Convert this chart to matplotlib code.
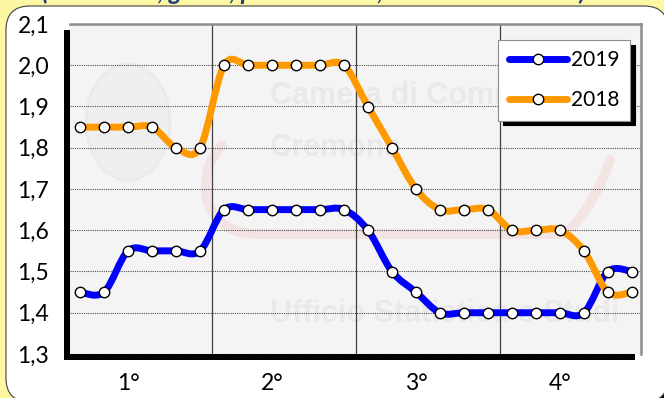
import matplotlib.pyplot as plt
from matplotlib.path import Path
from matplotlib.patches import PathPatch, Rectangle, FancyBboxPatch, Ellipse
from matplotlib.lines import Line2D
from matplotlib.ticker import FuncFormatter
import numpy as np

plt.rcParams["font.family"] = ["Lato", "DejaVu Sans"]

# six readings per quarter, two years
quarters = ["1°", "2°", "3°", "4°"]
per_quarter = 6
years = ["2019", "2018"]
rate_2019 = [1.45, 1.45, 1.55, 1.55, 1.55, 1.55,
             1.65, 1.65, 1.65, 1.65, 1.65, 1.65,
             1.60, 1.50, 1.45, 1.40, 1.40, 1.40,
             1.40, 1.40, 1.40, 1.40, 1.50, 1.50]
rate_2018 = [1.85, 1.85, 1.85, 1.85, 1.80, 1.80,
             2.00, 2.00, 2.00, 2.00, 2.00, 2.00,
             1.90, 1.80, 1.70, 1.65, 1.65, 1.65,
             1.60, 1.60, 1.60, 1.55, 1.45, 1.45]
colors = ["#0000FF", "#FF9900"]

W, H = 664, 398
BG_YELLOW = "#FDF6A3"


def inch(x, y):
    # pixel position (origin top-left) -> inches from bottom-left
    return x / 100, (H - y) / 100


def smooth_path(x, y):
    # cubic Bezier through every point, Catmull-Rom style tangents
    pts = np.column_stack([x, y]).astype(float)
    ext = np.vstack([pts[0], pts, pts[-1]])
    verts = [pts[0]]
    codes = [Path.MOVETO]
    for i in range(len(pts) - 1):
        p0, p1, p2, p3 = ext[i], ext[i + 1], ext[i + 2], ext[i + 3]
        verts += [p1 + (p2 - p0) / 6, p2 - (p3 - p1) / 6, p2]
        codes += [Path.CURVE4] * 3
    return Path(verts, codes)


fig = plt.figure(figsize=(W / 100, H / 100), dpi=100)
fig.patch.set_facecolor(BG_YELLOW)

# rounded white panel with a dark drop shadow
x0, y0 = inch(6, 402)
panel_w, panel_h = (668 - 6) / 100, (402 - 6) / 100
fig.patches.append(FancyBboxPatch((x0 + 0.06, y0 - 0.06), panel_w, panel_h,
                                  boxstyle="round,pad=0,rounding_size=0.24",
                                  transform=fig.dpi_scale_trans,
                                  facecolor="black", edgecolor="none", zorder=-3))
fig.patches.append(FancyBboxPatch((x0, y0), panel_w, panel_h,
                                  boxstyle="round,pad=0,rounding_size=0.24",
                                  transform=fig.dpi_scale_trans,
                                  facecolor="white", edgecolor="#404040",
                                  linewidth=0.8, zorder=-2))

# title line, mostly above the top edge
fig.text(*inch(42, 0.5), "(valori in %, giorni, per trimestre, anni 2018 e 2019)",
         transform=fig.dpi_scale_trans, fontsize=18, fontstyle="italic",
         fontweight="bold", color="#1F3C88", va="baseline", ha="left")

# plot area and its shadow
left, top, right, bottom = 70, 24, 641, 354
sx, sy = inch(left - 6, bottom + 6)
fig.patches.append(Rectangle((sx, sy), (right - left) / 100, (bottom - top) / 100,
                             transform=fig.dpi_scale_trans,
                             facecolor="black", edgecolor="none", zorder=-1))

ax = fig.add_axes([left / W, 1 - bottom / H, (right - left) / W, (bottom - top) / H])
ax.set_facecolor("#F4F4F4")
ax.set_axisbelow(True)

# faint watermark
ax.add_patch(Ellipse(inch(128, 122), 0.84, 1.16, transform=fig.dpi_scale_trans,
                     facecolor="#EFEFEF", edgecolor="#EAEAEA", lw=2, zorder=0.3))
swoosh = Path([inch(222, 145), inch(196, 170), inch(196, 235), inch(260, 234),
               inch(400, 234), inch(565, 234), inch(585, 215), inch(600, 190), inch(610, 160)],
              [Path.MOVETO, Path.CURVE4, Path.CURVE4, Path.CURVE4,
               Path.LINETO, Path.LINETO, Path.CURVE4, Path.CURVE4, Path.CURVE4])
ax.add_patch(PathPatch(swoosh, transform=fig.dpi_scale_trans, fill=False,
                       edgecolor="#F3E3E3", lw=7, capstyle="round", zorder=0.3))
for txt, (tx, ty) in [("Camera di Commercio", (270, 104)), ("Cremona", (270, 156)),
                      ("Ufficio Statistica e Studi", (270, 322))]:
    ax.text(*inch(tx, ty), txt, transform=fig.dpi_scale_trans, fontsize=22,
            fontweight="bold", color="#E9E9E9", family="Liberation Sans",
            ha="left", va="baseline", zorder=0.35, clip_on=True)

idx = np.arange(len(rate_2019))
for values, color in zip([rate_2019, rate_2018], colors):
    ax.add_patch(PathPatch(smooth_path(idx, values), fill=False, edgecolor=color,
                           lw=5, capstyle="round", joinstyle="round", zorder=2))
    ax.plot(idx, values, linestyle="none", marker="o", markersize=7.5,
            markerfacecolor="white", markeredgecolor="black", markeredgewidth=1, zorder=3)

ax.set_xlim(-0.42, 23.38)
ax.set_ylim(1.3, 2.1)

# quarter separators
for q in range(1, len(quarters)):
    ax.axvline(q * per_quarter - 0.5, color="#404040", lw=0.9, zorder=1)

ax.set_yticks(np.arange(1.3, 2.11, 0.1))
ax.yaxis.set_major_formatter(FuncFormatter(lambda v, _: f"{v:.1f}".replace(".", ",")))
ax.set_xticks([q * per_quarter + 2 for q in range(len(quarters))])
ax.set_xticklabels(quarters)
ax.tick_params(axis="both", length=0, labelsize=16.5, colors="black")
ax.tick_params(axis="y", pad=15)
ax.tick_params(axis="x", pad=14)
ax.grid(axis="y", color="#505050", lw=0.8, linestyle=(0, (1, 1)))

for side in ["left", "bottom"]:
    ax.spines[side].set_visible(False)
for side in ["top", "right"]:
    ax.spines[side].set_color("#8C8C8C")
    ax.spines[side].set_linewidth(1.8)

handles = [Line2D([], [], color=c, lw=5, solid_capstyle="round", marker="o",
                  markersize=7.5, markerfacecolor="white", markeredgecolor="black",
                  markeredgewidth=1) for c in colors]
leg = ax.legend(handles, years, loc="upper right",
                bbox_to_anchor=(630 / W, 1 - 40 / H), bbox_transform=fig.transFigure,
                fancybox=False, framealpha=1, edgecolor="#8C8C8C", fontsize=15,
                handlelength=2.8, handletextpad=0.2, labelspacing=0.95,
                borderpad=0.5, borderaxespad=0,
                shadow={"ox": 3.5, "oy": -3.5, "color": "black", "alpha": 1})
leg.get_frame().set_linewidth(0.8)
leg.set_zorder(5)

fig.savefig("out.png", dpi=100, facecolor=fig.get_facecolor())
